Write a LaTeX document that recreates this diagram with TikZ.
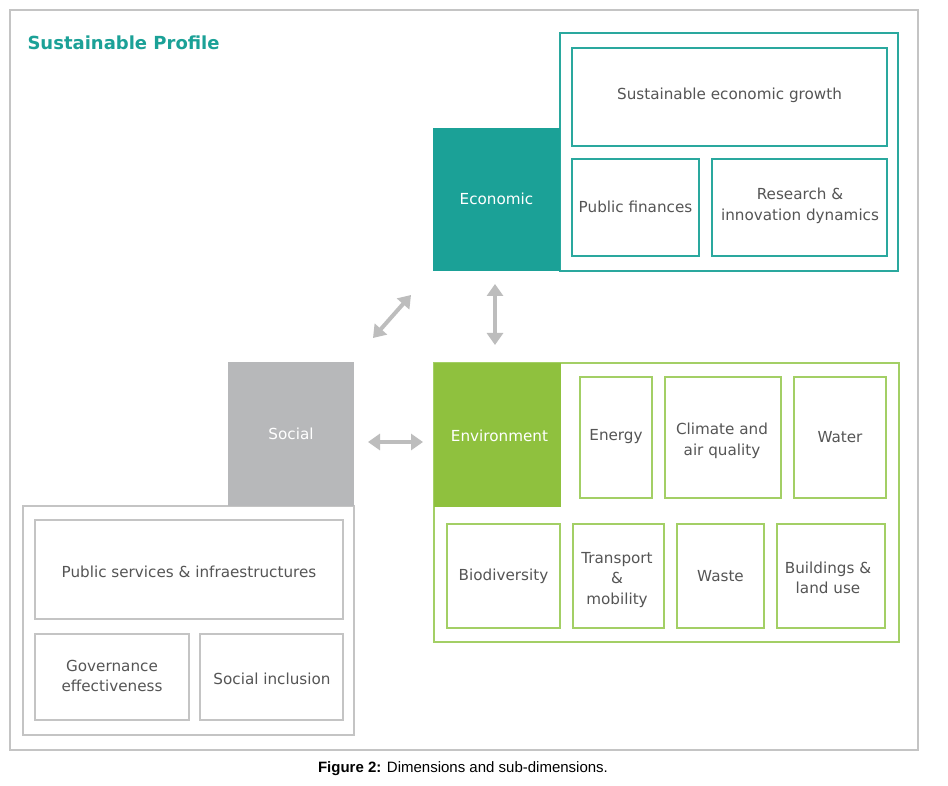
\documentclass[tikz,border=0pt]{standalone}
\usepackage{fontspec}
\setmainfont{DejaVu Sans}
\newfontfamily\capfont{Liberation Sans}
\usetikzlibrary{arrows.meta}
\definecolor{teal1}{HTML}{1BA197}
\definecolor{teal2}{HTML}{2AA89E}
\definecolor{green1}{HTML}{8FC13E}
\definecolor{green2}{HTML}{A3CF65}
\definecolor{gray1}{HTML}{B7B8BA}
\definecolor{gray2}{HTML}{C4C4C4}
\definecolor{txt}{HTML}{555555}
\definecolor{arr}{HTML}{BDBDBD}
\tikzset{
  lbl/.style={font=\fontsize{15.2}{20.5}\selectfont, text=txt, align=center},
  wlbl/.style={font=\fontsize{15.2}{20.5}\selectfont, text=white, align=center},
  tbox/.style={draw=teal2, line width=1.8pt},
  gbox/.style={draw=green2, line width=1.8pt},
  sbox/.style={draw=gray2, line width=1.5pt},
  dbl/.style={arr, line width=4pt, {Triangle[length=12pt,width=16pt]}-{Triangle[length=12pt,width=16pt]}}
}
\begin{document}
\begin{tikzpicture}[x=1pt,y=-1pt]
\useasboundingbox (0,0) rectangle (948,786);
\fill[white] (0,0) rectangle (948,786);
% outer frame
\draw[draw=gray2, line width=2pt] (10,10) rectangle (918,750);
\node[anchor=west, font=\fontsize{18}{20}\selectfont\bfseries, text=teal1] (title) at (24,43) {Sustainable Profile};

% Economic
\draw[tbox] (560,33) rectangle (898,271);
\fill[teal1] (433,128) rectangle (560,271);
\node[wlbl] (eco) at (496.5,199) {Economic};
\draw[tbox] (572,48) rectangle (887,146);
\node[lbl] (seg) at (729.5,95) {Sustainable economic growth};
\draw[tbox] (572,159) rectangle (699,256);
\node[lbl] (pf) at (635.5,207) {Public finances};
\draw[tbox] (712,159) rectangle (887,256);
\node[lbl] (rid) at (800,206) {Research \&\\innovation dynamics};

% Environment
\draw[gbox] (434,363) rectangle (899,642);
\fill[green1] (434,363) rectangle (561,507);
\node[wlbl] (env) at (499.5,436) {Environment};
\draw[gbox] (580,377) rectangle (652,498);
\node[lbl] (en) at (616,437) {Energy};
\draw[gbox] (665,377) rectangle (781,498);
\node[lbl] (cl) at (722,441) {Climate and\\air quality};
\draw[gbox] (794,377) rectangle (886,498);
\node[lbl] (wa) at (840,437) {Water};
\draw[gbox] (447,524) rectangle (560,628);
\node[lbl] (bio) at (503.5,576) {Biodiversity};
\draw[gbox] (573,524) rectangle (664,628);
\node[lbl] (tr) at (617,580) {Transport\\\&\\mobility};
\draw[gbox] (677,524) rectangle (764,628);
\node[lbl] (ws) at (720.5,576) {Waste};
\draw[gbox] (777,524) rectangle (885,628);
\node[lbl] (bl) at (828,578) {Buildings \&\\land use};

% Social
\draw[sbox] (23,506) rectangle (354,735);
\fill[gray1] (228,362) rectangle (354,506);
\node[wlbl] (soc) at (291,434) {Social};
\draw[sbox] (35,520) rectangle (343,619);
\node[lbl] (ps) at (189,572) {Public services \& infraestructures};
\draw[sbox] (35,634) rectangle (189,720);
\node[lbl] (gov) at (112,676) {Governance\\effectiveness};
\draw[sbox] (200,634) rectangle (343,720);
\node[lbl] (si) at (272,679) {Social inclusion};

% arrows
\coordinate (a1) at (373,338);
\coordinate (a2) at (411,295);
\coordinate (b1) at (495,284);
\coordinate (b2) at (495,345);
\coordinate (c1) at (368,442);
\coordinate (c2) at (423,442);
\draw[dbl] (a1) -- (a2);
\draw[dbl] (b1) -- (b2);
\draw[dbl] (c1) -- (c2);

% caption
\node[font=\capfont\fontsize{15}{17}\selectfont] (cap) at (463,769) {\textbf{Figure 2:} Dimensions and sub-dimensions.};
\end{tikzpicture}
\end{document}
